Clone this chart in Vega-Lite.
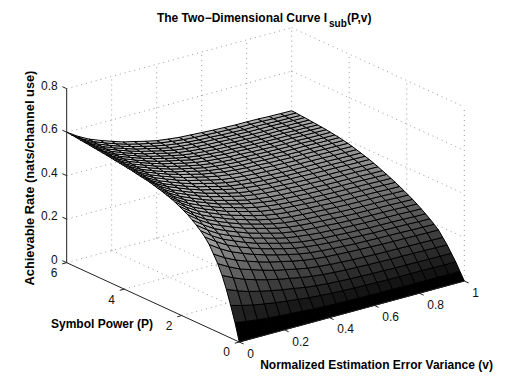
{"$schema":"https://vega.github.io/schema/vega-lite/v6.json","width":512,"height":385,"padding":0,"autosize":{"type":"none"},"background":"white","config":{"view":{"stroke":null}},
"datasets":{
"surface":[
{"P":0,"v":0,"z":0},{"P":0,"v":0.05,"z":0},{"P":0,"v":0.1,"z":0},{"P":0,"v":0.15,"z":0},{"P":0,"v":0.2,"z":0},{"P":0,"v":0.25,"z":0},{"P":0,"v":0.3,"z":0},{"P":0,"v":0.35,"z":0},{"P":0,"v":0.4,"z":0},{"P":0,"v":0.45,"z":0},{"P":0,"v":0.5,"z":0},{"P":0,"v":0.55,"z":0},{"P":0,"v":0.6,"z":0},{"P":0,"v":0.65,"z":0},{"P":0,"v":0.7,"z":0},{"P":0,"v":0.75,"z":0},{"P":0,"v":0.8,"z":0},{"P":0,"v":0.85,"z":0},{"P":0,"v":0.9,"z":0},{"P":0,"v":0.95,"z":0},{"P":0,"v":1,"z":0},
{"P":0.15,"v":0,"z":0.08},{"P":0.15,"v":0.05,"z":0.072},{"P":0.15,"v":0.1,"z":0.065},{"P":0.15,"v":0.15,"z":0.06},{"P":0.15,"v":0.2,"z":0.056},{"P":0.15,"v":0.25,"z":0.052},{"P":0.15,"v":0.3,"z":0.049},{"P":0.15,"v":0.35,"z":0.045},{"P":0.15,"v":0.4,"z":0.043},{"P":0.15,"v":0.45,"z":0.041},{"P":0.15,"v":0.5,"z":0.04},{"P":0.15,"v":0.55,"z":0.039},{"P":0.15,"v":0.6,"z":0.038},{"P":0.15,"v":0.65,"z":0.037},{"P":0.15,"v":0.7,"z":0.037},{"P":0.15,"v":0.75,"z":0.036},{"P":0.15,"v":0.8,"z":0.036},{"P":0.15,"v":0.85,"z":0.036},{"P":0.15,"v":0.9,"z":0.036},{"P":0.15,"v":0.95,"z":0.035},{"P":0.15,"v":1,"z":0.035},
{"P":0.3,"v":0,"z":0.15},{"P":0.3,"v":0.05,"z":0.136},{"P":0.3,"v":0.1,"z":0.124},{"P":0.3,"v":0.15,"z":0.115},{"P":0.3,"v":0.2,"z":0.107},{"P":0.3,"v":0.25,"z":0.1},{"P":0.3,"v":0.3,"z":0.094},{"P":0.3,"v":0.35,"z":0.088},{"P":0.3,"v":0.4,"z":0.084},{"P":0.3,"v":0.45,"z":0.08},{"P":0.3,"v":0.5,"z":0.078},{"P":0.3,"v":0.55,"z":0.076},{"P":0.3,"v":0.6,"z":0.075},{"P":0.3,"v":0.65,"z":0.074},{"P":0.3,"v":0.7,"z":0.073},{"P":0.3,"v":0.75,"z":0.072},{"P":0.3,"v":0.8,"z":0.072},{"P":0.3,"v":0.85,"z":0.072},{"P":0.3,"v":0.9,"z":0.071},{"P":0.3,"v":0.95,"z":0.07},{"P":0.3,"v":1,"z":0.07},
{"P":0.45,"v":0,"z":0.215},{"P":0.45,"v":0.05,"z":0.194},{"P":0.45,"v":0.1,"z":0.177},{"P":0.45,"v":0.15,"z":0.164},{"P":0.45,"v":0.2,"z":0.153},{"P":0.45,"v":0.25,"z":0.143},{"P":0.45,"v":0.3,"z":0.135},{"P":0.45,"v":0.35,"z":0.126},{"P":0.45,"v":0.4,"z":0.12},{"P":0.45,"v":0.45,"z":0.115},{"P":0.45,"v":0.5,"z":0.112},{"P":0.45,"v":0.55,"z":0.109},{"P":0.45,"v":0.6,"z":0.107},{"P":0.45,"v":0.65,"z":0.106},{"P":0.45,"v":0.7,"z":0.105},{"P":0.45,"v":0.75,"z":0.103},{"P":0.45,"v":0.8,"z":0.103},{"P":0.45,"v":0.85,"z":0.102},{"P":0.45,"v":0.9,"z":0.101},{"P":0.45,"v":0.95,"z":0.101},{"P":0.45,"v":1,"z":0.1},
{"P":0.6,"v":0,"z":0.27},{"P":0.6,"v":0.05,"z":0.245},{"P":0.6,"v":0.1,"z":0.224},{"P":0.6,"v":0.15,"z":0.208},{"P":0.6,"v":0.2,"z":0.194},{"P":0.6,"v":0.25,"z":0.182},{"P":0.6,"v":0.3,"z":0.172},{"P":0.6,"v":0.35,"z":0.162},{"P":0.6,"v":0.4,"z":0.154},{"P":0.6,"v":0.45,"z":0.148},{"P":0.6,"v":0.5,"z":0.144},{"P":0.6,"v":0.55,"z":0.141},{"P":0.6,"v":0.6,"z":0.139},{"P":0.6,"v":0.65,"z":0.137},{"P":0.6,"v":0.7,"z":0.136},{"P":0.6,"v":0.75,"z":0.134},{"P":0.6,"v":0.8,"z":0.134},{"P":0.6,"v":0.85,"z":0.133},{"P":0.6,"v":0.9,"z":0.132},{"P":0.6,"v":0.95,"z":0.131},{"P":0.6,"v":1,"z":0.13},
{"P":0.75,"v":0,"z":0.315},{"P":0.75,"v":0.05,"z":0.286},{"P":0.75,"v":0.1,"z":0.262},{"P":0.75,"v":0.15,"z":0.245},{"P":0.75,"v":0.2,"z":0.229},{"P":0.75,"v":0.25,"z":0.214},{"P":0.75,"v":0.3,"z":0.203},{"P":0.75,"v":0.35,"z":0.192},{"P":0.75,"v":0.4,"z":0.182},{"P":0.75,"v":0.45,"z":0.176},{"P":0.75,"v":0.5,"z":0.171},{"P":0.75,"v":0.55,"z":0.168},{"P":0.75,"v":0.6,"z":0.165},{"P":0.75,"v":0.65,"z":0.163},{"P":0.75,"v":0.7,"z":0.161},{"P":0.75,"v":0.75,"z":0.16},{"P":0.75,"v":0.8,"z":0.159},{"P":0.75,"v":0.85,"z":0.158},{"P":0.75,"v":0.9,"z":0.157},{"P":0.75,"v":0.95,"z":0.156},{"P":0.75,"v":1,"z":0.155},
{"P":0.9,"v":0,"z":0.35},{"P":0.9,"v":0.05,"z":0.319},{"P":0.9,"v":0.1,"z":0.294},{"P":0.9,"v":0.15,"z":0.275},{"P":0.9,"v":0.2,"z":0.258},{"P":0.9,"v":0.25,"z":0.243},{"P":0.9,"v":0.3,"z":0.231},{"P":0.9,"v":0.35,"z":0.219},{"P":0.9,"v":0.4,"z":0.209},{"P":0.9,"v":0.45,"z":0.202},{"P":0.9,"v":0.5,"z":0.197},{"P":0.9,"v":0.55,"z":0.194},{"P":0.9,"v":0.6,"z":0.191},{"P":0.9,"v":0.65,"z":0.189},{"P":0.9,"v":0.7,"z":0.187},{"P":0.9,"v":0.75,"z":0.185},{"P":0.9,"v":0.8,"z":0.184},{"P":0.9,"v":0.85,"z":0.183},{"P":0.9,"v":0.9,"z":0.182},{"P":0.9,"v":0.95,"z":0.181},{"P":0.9,"v":1,"z":0.18},
{"P":1.05,"v":0,"z":0.385},{"P":1.05,"v":0.05,"z":0.351},{"P":1.05,"v":0.1,"z":0.323},{"P":1.05,"v":0.15,"z":0.302},{"P":1.05,"v":0.2,"z":0.283},{"P":1.05,"v":0.25,"z":0.267},{"P":1.05,"v":0.3,"z":0.253},{"P":1.05,"v":0.35,"z":0.24},{"P":1.05,"v":0.4,"z":0.229},{"P":1.05,"v":0.45,"z":0.221},{"P":1.05,"v":0.5,"z":0.216},{"P":1.05,"v":0.55,"z":0.212},{"P":1.05,"v":0.6,"z":0.209},{"P":1.05,"v":0.65,"z":0.206},{"P":1.05,"v":0.7,"z":0.205},{"P":1.05,"v":0.75,"z":0.203},{"P":1.05,"v":0.8,"z":0.202},{"P":1.05,"v":0.85,"z":0.201},{"P":1.05,"v":0.9,"z":0.199},{"P":1.05,"v":0.95,"z":0.198},{"P":1.05,"v":1,"z":0.197},
{"P":1.2,"v":0,"z":0.41},{"P":1.2,"v":0.05,"z":0.375},{"P":1.2,"v":0.1,"z":0.345},{"P":1.2,"v":0.15,"z":0.323},{"P":1.2,"v":0.2,"z":0.304},{"P":1.2,"v":0.25,"z":0.286},{"P":1.2,"v":0.3,"z":0.272},{"P":1.2,"v":0.35,"z":0.258},{"P":1.2,"v":0.4,"z":0.246},{"P":1.2,"v":0.45,"z":0.239},{"P":1.2,"v":0.5,"z":0.233},{"P":1.2,"v":0.55,"z":0.229},{"P":1.2,"v":0.6,"z":0.226},{"P":1.2,"v":0.65,"z":0.223},{"P":1.2,"v":0.7,"z":0.221},{"P":1.2,"v":0.75,"z":0.219},{"P":1.2,"v":0.8,"z":0.218},{"P":1.2,"v":0.85,"z":0.217},{"P":1.2,"v":0.9,"z":0.216},{"P":1.2,"v":0.95,"z":0.214},{"P":1.2,"v":1,"z":0.213},
{"P":1.35,"v":0,"z":0.43},{"P":1.35,"v":0.05,"z":0.393},{"P":1.35,"v":0.1,"z":0.363},{"P":1.35,"v":0.15,"z":0.341},{"P":1.35,"v":0.2,"z":0.32},{"P":1.35,"v":0.25,"z":0.302},{"P":1.35,"v":0.3,"z":0.288},{"P":1.35,"v":0.35,"z":0.274},{"P":1.35,"v":0.4,"z":0.262},{"P":1.35,"v":0.45,"z":0.253},{"P":1.35,"v":0.5,"z":0.247},{"P":1.35,"v":0.55,"z":0.243},{"P":1.35,"v":0.6,"z":0.24},{"P":1.35,"v":0.65,"z":0.237},{"P":1.35,"v":0.7,"z":0.235},{"P":1.35,"v":0.75,"z":0.233},{"P":1.35,"v":0.8,"z":0.232},{"P":1.35,"v":0.85,"z":0.231},{"P":1.35,"v":0.9,"z":0.23},{"P":1.35,"v":0.95,"z":0.228},{"P":1.35,"v":1,"z":0.227},
{"P":1.5,"v":0,"z":0.447},{"P":1.5,"v":0.05,"z":0.41},{"P":1.5,"v":0.1,"z":0.379},{"P":1.5,"v":0.15,"z":0.356},{"P":1.5,"v":0.2,"z":0.336},{"P":1.5,"v":0.25,"z":0.317},{"P":1.5,"v":0.3,"z":0.303},{"P":1.5,"v":0.35,"z":0.288},{"P":1.5,"v":0.4,"z":0.276},{"P":1.5,"v":0.45,"z":0.268},{"P":1.5,"v":0.5,"z":0.262},{"P":1.5,"v":0.55,"z":0.257},{"P":1.5,"v":0.6,"z":0.254},{"P":1.5,"v":0.65,"z":0.251},{"P":1.5,"v":0.7,"z":0.249},{"P":1.5,"v":0.75,"z":0.247},{"P":1.5,"v":0.8,"z":0.246},{"P":1.5,"v":0.85,"z":0.245},{"P":1.5,"v":0.9,"z":0.244},{"P":1.5,"v":0.95,"z":0.242},{"P":1.5,"v":1,"z":0.241},
{"P":1.65,"v":0,"z":0.462},{"P":1.65,"v":0.05,"z":0.425},{"P":1.65,"v":0.1,"z":0.393},{"P":1.65,"v":0.15,"z":0.37},{"P":1.65,"v":0.2,"z":0.35},{"P":1.65,"v":0.25,"z":0.331},{"P":1.65,"v":0.3,"z":0.316},{"P":1.65,"v":0.35,"z":0.302},{"P":1.65,"v":0.4,"z":0.289},{"P":1.65,"v":0.45,"z":0.281},{"P":1.65,"v":0.5,"z":0.275},{"P":1.65,"v":0.55,"z":0.271},{"P":1.65,"v":0.6,"z":0.268},{"P":1.65,"v":0.65,"z":0.264},{"P":1.65,"v":0.7,"z":0.262},{"P":1.65,"v":0.75,"z":0.26},{"P":1.65,"v":0.8,"z":0.259},{"P":1.65,"v":0.85,"z":0.258},{"P":1.65,"v":0.9,"z":0.257},{"P":1.65,"v":0.95,"z":0.255},{"P":1.65,"v":1,"z":0.254},
{"P":1.8,"v":0,"z":0.477},{"P":1.8,"v":0.05,"z":0.439},{"P":1.8,"v":0.1,"z":0.407},{"P":1.8,"v":0.15,"z":0.384},{"P":1.8,"v":0.2,"z":0.363},{"P":1.8,"v":0.25,"z":0.344},{"P":1.8,"v":0.3,"z":0.329},{"P":1.8,"v":0.35,"z":0.315},{"P":1.8,"v":0.4,"z":0.302},{"P":1.8,"v":0.45,"z":0.293},{"P":1.8,"v":0.5,"z":0.287},{"P":1.8,"v":0.55,"z":0.283},{"P":1.8,"v":0.6,"z":0.28},{"P":1.8,"v":0.65,"z":0.277},{"P":1.8,"v":0.7,"z":0.274},{"P":1.8,"v":0.75,"z":0.272},{"P":1.8,"v":0.8,"z":0.271},{"P":1.8,"v":0.85,"z":0.27},{"P":1.8,"v":0.9,"z":0.269},{"P":1.8,"v":0.95,"z":0.267},{"P":1.8,"v":1,"z":0.266},
{"P":1.95,"v":0,"z":0.488},{"P":1.95,"v":0.05,"z":0.45},{"P":1.95,"v":0.1,"z":0.418},{"P":1.95,"v":0.15,"z":0.395},{"P":1.95,"v":0.2,"z":0.374},{"P":1.95,"v":0.25,"z":0.355},{"P":1.95,"v":0.3,"z":0.34},{"P":1.95,"v":0.35,"z":0.326},{"P":1.95,"v":0.4,"z":0.313},{"P":1.95,"v":0.45,"z":0.304},{"P":1.95,"v":0.5,"z":0.298},{"P":1.95,"v":0.55,"z":0.294},{"P":1.95,"v":0.6,"z":0.291},{"P":1.95,"v":0.65,"z":0.288},{"P":1.95,"v":0.7,"z":0.285},{"P":1.95,"v":0.75,"z":0.283},{"P":1.95,"v":0.8,"z":0.282},{"P":1.95,"v":0.85,"z":0.281},{"P":1.95,"v":0.9,"z":0.28},{"P":1.95,"v":0.95,"z":0.278},{"P":1.95,"v":1,"z":0.277},
{"P":2.1,"v":0,"z":0.498},{"P":2.1,"v":0.05,"z":0.46},{"P":2.1,"v":0.1,"z":0.429},{"P":2.1,"v":0.15,"z":0.406},{"P":2.1,"v":0.2,"z":0.385},{"P":2.1,"v":0.25,"z":0.366},{"P":2.1,"v":0.3,"z":0.351},{"P":2.1,"v":0.35,"z":0.336},{"P":2.1,"v":0.4,"z":0.324},{"P":2.1,"v":0.45,"z":0.315},{"P":2.1,"v":0.5,"z":0.309},{"P":2.1,"v":0.55,"z":0.305},{"P":2.1,"v":0.6,"z":0.302},{"P":2.1,"v":0.65,"z":0.299},{"P":2.1,"v":0.7,"z":0.296},{"P":2.1,"v":0.75,"z":0.294},{"P":2.1,"v":0.8,"z":0.293},{"P":2.1,"v":0.85,"z":0.292},{"P":2.1,"v":0.9,"z":0.291},{"P":2.1,"v":0.95,"z":0.289},{"P":2.1,"v":1,"z":0.288},
{"P":2.25,"v":0,"z":0.508},{"P":2.25,"v":0.05,"z":0.47},{"P":2.25,"v":0.1,"z":0.439},{"P":2.25,"v":0.15,"z":0.416},{"P":2.25,"v":0.2,"z":0.395},{"P":2.25,"v":0.25,"z":0.376},{"P":2.25,"v":0.3,"z":0.361},{"P":2.25,"v":0.35,"z":0.346},{"P":2.25,"v":0.4,"z":0.334},{"P":2.25,"v":0.45,"z":0.325},{"P":2.25,"v":0.5,"z":0.319},{"P":2.25,"v":0.55,"z":0.315},{"P":2.25,"v":0.6,"z":0.312},{"P":2.25,"v":0.65,"z":0.309},{"P":2.25,"v":0.7,"z":0.306},{"P":2.25,"v":0.75,"z":0.304},{"P":2.25,"v":0.8,"z":0.303},{"P":2.25,"v":0.85,"z":0.302},{"P":2.25,"v":0.9,"z":0.301},{"P":2.25,"v":0.95,"z":0.299},{"P":2.25,"v":1,"z":0.298},
{"P":2.4,"v":0,"z":0.516},{"P":2.4,"v":0.05,"z":0.479},{"P":2.4,"v":0.1,"z":0.447},{"P":2.4,"v":0.15,"z":0.424},{"P":2.4,"v":0.2,"z":0.404},{"P":2.4,"v":0.25,"z":0.385},{"P":2.4,"v":0.3,"z":0.37},{"P":2.4,"v":0.35,"z":0.356},{"P":2.4,"v":0.4,"z":0.343},{"P":2.4,"v":0.45,"z":0.335},{"P":2.4,"v":0.5,"z":0.329},{"P":2.4,"v":0.55,"z":0.325},{"P":2.4,"v":0.6,"z":0.322},{"P":2.4,"v":0.65,"z":0.318},{"P":2.4,"v":0.7,"z":0.316},{"P":2.4,"v":0.75,"z":0.314},{"P":2.4,"v":0.8,"z":0.313},{"P":2.4,"v":0.85,"z":0.312},{"P":2.4,"v":0.9,"z":0.311},{"P":2.4,"v":0.95,"z":0.309},{"P":2.4,"v":1,"z":0.308},
{"P":2.55,"v":0,"z":0.523},{"P":2.55,"v":0.05,"z":0.486},{"P":2.55,"v":0.1,"z":0.455},{"P":2.55,"v":0.15,"z":0.432},{"P":2.55,"v":0.2,"z":0.412},{"P":2.55,"v":0.25,"z":0.393},{"P":2.55,"v":0.3,"z":0.379},{"P":2.55,"v":0.35,"z":0.364},{"P":2.55,"v":0.4,"z":0.352},{"P":2.55,"v":0.45,"z":0.344},{"P":2.55,"v":0.5,"z":0.338},{"P":2.55,"v":0.55,"z":0.333},{"P":2.55,"v":0.6,"z":0.33},{"P":2.55,"v":0.65,"z":0.327},{"P":2.55,"v":0.7,"z":0.325},{"P":2.55,"v":0.75,"z":0.323},{"P":2.55,"v":0.8,"z":0.322},{"P":2.55,"v":0.85,"z":0.321},{"P":2.55,"v":0.9,"z":0.32},{"P":2.55,"v":0.95,"z":0.318},{"P":2.55,"v":1,"z":0.317},
{"P":2.7,"v":0,"z":0.53},{"P":2.7,"v":0.05,"z":0.493},{"P":2.7,"v":0.1,"z":0.463},{"P":2.7,"v":0.15,"z":0.44},{"P":2.7,"v":0.2,"z":0.42},{"P":2.7,"v":0.25,"z":0.401},{"P":2.7,"v":0.3,"z":0.387},{"P":2.7,"v":0.35,"z":0.373},{"P":2.7,"v":0.4,"z":0.361},{"P":2.7,"v":0.45,"z":0.353},{"P":2.7,"v":0.5,"z":0.346},{"P":2.7,"v":0.55,"z":0.342},{"P":2.7,"v":0.6,"z":0.339},{"P":2.7,"v":0.65,"z":0.336},{"P":2.7,"v":0.7,"z":0.334},{"P":2.7,"v":0.75,"z":0.332},{"P":2.7,"v":0.8,"z":0.331},{"P":2.7,"v":0.85,"z":0.33},{"P":2.7,"v":0.9,"z":0.329},{"P":2.7,"v":0.95,"z":0.327},{"P":2.7,"v":1,"z":0.326},
{"P":2.85,"v":0,"z":0.535},{"P":2.85,"v":0.05,"z":0.499},{"P":2.85,"v":0.1,"z":0.469},{"P":2.85,"v":0.15,"z":0.447},{"P":2.85,"v":0.2,"z":0.426},{"P":2.85,"v":0.25,"z":0.408},{"P":2.85,"v":0.3,"z":0.394},{"P":2.85,"v":0.35,"z":0.38},{"P":2.85,"v":0.4,"z":0.368},{"P":2.85,"v":0.45,"z":0.36},{"P":2.85,"v":0.5,"z":0.354},{"P":2.85,"v":0.55,"z":0.35},{"P":2.85,"v":0.6,"z":0.347},{"P":2.85,"v":0.65,"z":0.344},{"P":2.85,"v":0.7,"z":0.342},{"P":2.85,"v":0.75,"z":0.34},{"P":2.85,"v":0.8,"z":0.339},{"P":2.85,"v":0.85,"z":0.338},{"P":2.85,"v":0.9,"z":0.337},{"P":2.85,"v":0.95,"z":0.335},{"P":2.85,"v":1,"z":0.334},
{"P":3,"v":0,"z":0.541},{"P":3,"v":0.05,"z":0.505},{"P":3,"v":0.1,"z":0.476},{"P":3,"v":0.15,"z":0.454},{"P":3,"v":0.2,"z":0.434},{"P":3,"v":0.25,"z":0.416},{"P":3,"v":0.3,"z":0.402},{"P":3,"v":0.35,"z":0.389},{"P":3,"v":0.4,"z":0.377},{"P":3,"v":0.45,"z":0.369},{"P":3,"v":0.5,"z":0.363},{"P":3,"v":0.55,"z":0.359},{"P":3,"v":0.6,"z":0.356},{"P":3,"v":0.65,"z":0.353},{"P":3,"v":0.7,"z":0.351},{"P":3,"v":0.75,"z":0.349},{"P":3,"v":0.8,"z":0.348},{"P":3,"v":0.85,"z":0.347},{"P":3,"v":0.9,"z":0.346},{"P":3,"v":0.95,"z":0.344},{"P":3,"v":1,"z":0.343},
{"P":3.15,"v":0,"z":0.546},{"P":3.15,"v":0.05,"z":0.511},{"P":3.15,"v":0.1,"z":0.481},{"P":3.15,"v":0.15,"z":0.46},{"P":3.15,"v":0.2,"z":0.44},{"P":3.15,"v":0.25,"z":0.423},{"P":3.15,"v":0.3,"z":0.409},{"P":3.15,"v":0.35,"z":0.395},{"P":3.15,"v":0.4,"z":0.383},{"P":3.15,"v":0.45,"z":0.375},{"P":3.15,"v":0.5,"z":0.37},{"P":3.15,"v":0.55,"z":0.366},{"P":3.15,"v":0.6,"z":0.363},{"P":3.15,"v":0.65,"z":0.36},{"P":3.15,"v":0.7,"z":0.358},{"P":3.15,"v":0.75,"z":0.356},{"P":3.15,"v":0.8,"z":0.355},{"P":3.15,"v":0.85,"z":0.354},{"P":3.15,"v":0.9,"z":0.353},{"P":3.15,"v":0.95,"z":0.351},{"P":3.15,"v":1,"z":0.35},
{"P":3.3,"v":0,"z":0.55},{"P":3.3,"v":0.05,"z":0.515},{"P":3.3,"v":0.1,"z":0.487},{"P":3.3,"v":0.15,"z":0.466},{"P":3.3,"v":0.2,"z":0.446},{"P":3.3,"v":0.25,"z":0.429},{"P":3.3,"v":0.3,"z":0.416},{"P":3.3,"v":0.35,"z":0.402},{"P":3.3,"v":0.4,"z":0.391},{"P":3.3,"v":0.45,"z":0.383},{"P":3.3,"v":0.5,"z":0.377},{"P":3.3,"v":0.55,"z":0.373},{"P":3.3,"v":0.6,"z":0.37},{"P":3.3,"v":0.65,"z":0.368},{"P":3.3,"v":0.7,"z":0.366},{"P":3.3,"v":0.75,"z":0.364},{"P":3.3,"v":0.8,"z":0.363},{"P":3.3,"v":0.85,"z":0.362},{"P":3.3,"v":0.9,"z":0.36},{"P":3.3,"v":0.95,"z":0.359},{"P":3.3,"v":1,"z":0.358},
{"P":3.45,"v":0,"z":0.553},{"P":3.45,"v":0.05,"z":0.519},{"P":3.45,"v":0.1,"z":0.491},{"P":3.45,"v":0.15,"z":0.47},{"P":3.45,"v":0.2,"z":0.451},{"P":3.45,"v":0.25,"z":0.434},{"P":3.45,"v":0.3,"z":0.421},{"P":3.45,"v":0.35,"z":0.407},{"P":3.45,"v":0.4,"z":0.396},{"P":3.45,"v":0.45,"z":0.389},{"P":3.45,"v":0.5,"z":0.383},{"P":3.45,"v":0.55,"z":0.379},{"P":3.45,"v":0.6,"z":0.376},{"P":3.45,"v":0.65,"z":0.373},{"P":3.45,"v":0.7,"z":0.372},{"P":3.45,"v":0.75,"z":0.37},{"P":3.45,"v":0.8,"z":0.369},{"P":3.45,"v":0.85,"z":0.368},{"P":3.45,"v":0.9,"z":0.366},{"P":3.45,"v":0.95,"z":0.365},{"P":3.45,"v":1,"z":0.364},
{"P":3.6,"v":0,"z":0.557},{"P":3.6,"v":0.05,"z":0.523},{"P":3.6,"v":0.1,"z":0.495},{"P":3.6,"v":0.15,"z":0.475},{"P":3.6,"v":0.2,"z":0.456},{"P":3.6,"v":0.25,"z":0.439},{"P":3.6,"v":0.3,"z":0.426},{"P":3.6,"v":0.35,"z":0.413},{"P":3.6,"v":0.4,"z":0.402},{"P":3.6,"v":0.45,"z":0.394},{"P":3.6,"v":0.5,"z":0.389},{"P":3.6,"v":0.55,"z":0.385},{"P":3.6,"v":0.6,"z":0.382},{"P":3.6,"v":0.65,"z":0.379},{"P":3.6,"v":0.7,"z":0.377},{"P":3.6,"v":0.75,"z":0.376},{"P":3.6,"v":0.8,"z":0.375},{"P":3.6,"v":0.85,"z":0.374},{"P":3.6,"v":0.9,"z":0.372},{"P":3.6,"v":0.95,"z":0.371},{"P":3.6,"v":1,"z":0.37},
{"P":3.75,"v":0,"z":0.561},{"P":3.75,"v":0.05,"z":0.528},{"P":3.75,"v":0.1,"z":0.5},{"P":3.75,"v":0.15,"z":0.48},{"P":3.75,"v":0.2,"z":0.461},{"P":3.75,"v":0.25,"z":0.444},{"P":3.75,"v":0.3,"z":0.432},{"P":3.75,"v":0.35,"z":0.419},{"P":3.75,"v":0.4,"z":0.407},{"P":3.75,"v":0.45,"z":0.4},{"P":3.75,"v":0.5,"z":0.395},{"P":3.75,"v":0.55,"z":0.391},{"P":3.75,"v":0.6,"z":0.388},{"P":3.75,"v":0.65,"z":0.385},{"P":3.75,"v":0.7,"z":0.383},{"P":3.75,"v":0.75,"z":0.382},{"P":3.75,"v":0.8,"z":0.381},{"P":3.75,"v":0.85,"z":0.38},{"P":3.75,"v":0.9,"z":0.378},{"P":3.75,"v":0.95,"z":0.377},{"P":3.75,"v":1,"z":0.376},
{"P":3.9,"v":0,"z":0.564},{"P":3.9,"v":0.05,"z":0.531},{"P":3.9,"v":0.1,"z":0.504},{"P":3.9,"v":0.15,"z":0.484},{"P":3.9,"v":0.2,"z":0.466},{"P":3.9,"v":0.25,"z":0.449},{"P":3.9,"v":0.3,"z":0.437},{"P":3.9,"v":0.35,"z":0.424},{"P":3.9,"v":0.4,"z":0.413},{"P":3.9,"v":0.45,"z":0.406},{"P":3.9,"v":0.5,"z":0.4},{"P":3.9,"v":0.55,"z":0.397},{"P":3.9,"v":0.6,"z":0.394},{"P":3.9,"v":0.65,"z":0.391},{"P":3.9,"v":0.7,"z":0.389},{"P":3.9,"v":0.75,"z":0.387},{"P":3.9,"v":0.8,"z":0.387},{"P":3.9,"v":0.85,"z":0.386},{"P":3.9,"v":0.9,"z":0.384},{"P":3.9,"v":0.95,"z":0.383},{"P":3.9,"v":1,"z":0.382},
{"P":4.05,"v":0,"z":0.567},{"P":4.05,"v":0.05,"z":0.535},{"P":4.05,"v":0.1,"z":0.508},{"P":4.05,"v":0.15,"z":0.488},{"P":4.05,"v":0.2,"z":0.47},{"P":4.05,"v":0.25,"z":0.454},{"P":4.05,"v":0.3,"z":0.441},{"P":4.05,"v":0.35,"z":0.428},{"P":4.05,"v":0.4,"z":0.418},{"P":4.05,"v":0.45,"z":0.41},{"P":4.05,"v":0.5,"z":0.405},{"P":4.05,"v":0.55,"z":0.401},{"P":4.05,"v":0.6,"z":0.399},{"P":4.05,"v":0.65,"z":0.396},{"P":4.05,"v":0.7,"z":0.394},{"P":4.05,"v":0.75,"z":0.392},{"P":4.05,"v":0.8,"z":0.392},{"P":4.05,"v":0.85,"z":0.391},{"P":4.05,"v":0.9,"z":0.389},{"P":4.05,"v":0.95,"z":0.388},{"P":4.05,"v":1,"z":0.387},
{"P":4.2,"v":0,"z":0.57},{"P":4.2,"v":0.05,"z":0.538},{"P":4.2,"v":0.1,"z":0.511},{"P":4.2,"v":0.15,"z":0.491},{"P":4.2,"v":0.2,"z":0.473},{"P":4.2,"v":0.25,"z":0.457},{"P":4.2,"v":0.3,"z":0.445},{"P":4.2,"v":0.35,"z":0.432},{"P":4.2,"v":0.4,"z":0.421},{"P":4.2,"v":0.45,"z":0.414},{"P":4.2,"v":0.5,"z":0.409},{"P":4.2,"v":0.55,"z":0.405},{"P":4.2,"v":0.6,"z":0.403},{"P":4.2,"v":0.65,"z":0.4},{"P":4.2,"v":0.7,"z":0.398},{"P":4.2,"v":0.75,"z":0.396},{"P":4.2,"v":0.8,"z":0.395},{"P":4.2,"v":0.85,"z":0.395},{"P":4.2,"v":0.9,"z":0.393},{"P":4.2,"v":0.95,"z":0.392},{"P":4.2,"v":1,"z":0.391},
{"P":4.35,"v":0,"z":0.573},{"P":4.35,"v":0.05,"z":0.541},{"P":4.35,"v":0.1,"z":0.514},{"P":4.35,"v":0.15,"z":0.495},{"P":4.35,"v":0.2,"z":0.477},{"P":4.35,"v":0.25,"z":0.461},{"P":4.35,"v":0.3,"z":0.448},{"P":4.35,"v":0.35,"z":0.436},{"P":4.35,"v":0.4,"z":0.425},{"P":4.35,"v":0.45,"z":0.418},{"P":4.35,"v":0.5,"z":0.413},{"P":4.35,"v":0.55,"z":0.409},{"P":4.35,"v":0.6,"z":0.407},{"P":4.35,"v":0.65,"z":0.404},{"P":4.35,"v":0.7,"z":0.402},{"P":4.35,"v":0.75,"z":0.4},{"P":4.35,"v":0.8,"z":0.399},{"P":4.35,"v":0.85,"z":0.399},{"P":4.35,"v":0.9,"z":0.397},{"P":4.35,"v":0.95,"z":0.396},{"P":4.35,"v":1,"z":0.395},
{"P":4.5,"v":0,"z":0.576},{"P":4.5,"v":0.05,"z":0.544},{"P":4.5,"v":0.1,"z":0.517},{"P":4.5,"v":0.15,"z":0.498},{"P":4.5,"v":0.2,"z":0.48},{"P":4.5,"v":0.25,"z":0.464},{"P":4.5,"v":0.3,"z":0.451},{"P":4.5,"v":0.35,"z":0.439},{"P":4.5,"v":0.4,"z":0.428},{"P":4.5,"v":0.45,"z":0.421},{"P":4.5,"v":0.5,"z":0.416},{"P":4.5,"v":0.55,"z":0.412},{"P":4.5,"v":0.6,"z":0.41},{"P":4.5,"v":0.65,"z":0.407},{"P":4.5,"v":0.7,"z":0.405},{"P":4.5,"v":0.75,"z":0.403},{"P":4.5,"v":0.8,"z":0.402},{"P":4.5,"v":0.85,"z":0.402},{"P":4.5,"v":0.9,"z":0.4},{"P":4.5,"v":0.95,"z":0.399},{"P":4.5,"v":1,"z":0.398},
{"P":4.65,"v":0,"z":0.579},{"P":4.65,"v":0.05,"z":0.547},{"P":4.65,"v":0.1,"z":0.52},{"P":4.65,"v":0.15,"z":0.501},{"P":4.65,"v":0.2,"z":0.483},{"P":4.65,"v":0.25,"z":0.467},{"P":4.65,"v":0.3,"z":0.454},{"P":4.65,"v":0.35,"z":0.442},{"P":4.65,"v":0.4,"z":0.431},{"P":4.65,"v":0.45,"z":0.424},{"P":4.65,"v":0.5,"z":0.419},{"P":4.65,"v":0.55,"z":0.415},{"P":4.65,"v":0.6,"z":0.413},{"P":4.65,"v":0.65,"z":0.41},{"P":4.65,"v":0.7,"z":0.408},{"P":4.65,"v":0.75,"z":0.406},{"P":4.65,"v":0.8,"z":0.405},{"P":4.65,"v":0.85,"z":0.405},{"P":4.65,"v":0.9,"z":0.403},{"P":4.65,"v":0.95,"z":0.402},{"P":4.65,"v":1,"z":0.401},
{"P":4.8,"v":0,"z":0.581},{"P":4.8,"v":0.05,"z":0.549},{"P":4.8,"v":0.1,"z":0.523},{"P":4.8,"v":0.15,"z":0.503},{"P":4.8,"v":0.2,"z":0.485},{"P":4.8,"v":0.25,"z":0.469},{"P":4.8,"v":0.3,"z":0.457},{"P":4.8,"v":0.35,"z":0.445},{"P":4.8,"v":0.4,"z":0.434},{"P":4.8,"v":0.45,"z":0.427},{"P":4.8,"v":0.5,"z":0.422},{"P":4.8,"v":0.55,"z":0.418},{"P":4.8,"v":0.6,"z":0.416},{"P":4.8,"v":0.65,"z":0.413},{"P":4.8,"v":0.7,"z":0.411},{"P":4.8,"v":0.75,"z":0.409},{"P":4.8,"v":0.8,"z":0.408},{"P":4.8,"v":0.85,"z":0.408},{"P":4.8,"v":0.9,"z":0.406},{"P":4.8,"v":0.95,"z":0.405},{"P":4.8,"v":1,"z":0.404},
{"P":4.95,"v":0,"z":0.584},{"P":4.95,"v":0.05,"z":0.552},{"P":4.95,"v":0.1,"z":0.525},{"P":4.95,"v":0.15,"z":0.506},{"P":4.95,"v":0.2,"z":0.488},{"P":4.95,"v":0.25,"z":0.472},{"P":4.95,"v":0.3,"z":0.459},{"P":4.95,"v":0.35,"z":0.447},{"P":4.95,"v":0.4,"z":0.436},{"P":4.95,"v":0.45,"z":0.429},{"P":4.95,"v":0.5,"z":0.424},{"P":4.95,"v":0.55,"z":0.42},{"P":4.95,"v":0.6,"z":0.418},{"P":4.95,"v":0.65,"z":0.415},{"P":4.95,"v":0.7,"z":0.413},{"P":4.95,"v":0.75,"z":0.411},{"P":4.95,"v":0.8,"z":0.41},{"P":4.95,"v":0.85,"z":0.41},{"P":4.95,"v":0.9,"z":0.408},{"P":4.95,"v":0.95,"z":0.407},{"P":4.95,"v":1,"z":0.406},
{"P":5.1,"v":0,"z":0.586},{"P":5.1,"v":0.05,"z":0.554},{"P":5.1,"v":0.1,"z":0.527},{"P":5.1,"v":0.15,"z":0.508},{"P":5.1,"v":0.2,"z":0.49},{"P":5.1,"v":0.25,"z":0.474},{"P":5.1,"v":0.3,"z":0.461},{"P":5.1,"v":0.35,"z":0.449},{"P":5.1,"v":0.4,"z":0.438},{"P":5.1,"v":0.45,"z":0.431},{"P":5.1,"v":0.5,"z":0.426},{"P":5.1,"v":0.55,"z":0.422},{"P":5.1,"v":0.6,"z":0.42},{"P":5.1,"v":0.65,"z":0.417},{"P":5.1,"v":0.7,"z":0.415},{"P":5.1,"v":0.75,"z":0.413},{"P":5.1,"v":0.8,"z":0.412},{"P":5.1,"v":0.85,"z":0.412},{"P":5.1,"v":0.9,"z":0.41},{"P":5.1,"v":0.95,"z":0.409},{"P":5.1,"v":1,"z":0.408},
{"P":5.25,"v":0,"z":0.589},{"P":5.25,"v":0.05,"z":0.557},{"P":5.25,"v":0.1,"z":0.53},{"P":5.25,"v":0.15,"z":0.51},{"P":5.25,"v":0.2,"z":0.492},{"P":5.25,"v":0.25,"z":0.476},{"P":5.25,"v":0.3,"z":0.464},{"P":5.25,"v":0.35,"z":0.451},{"P":5.25,"v":0.4,"z":0.44},{"P":5.25,"v":0.45,"z":0.433},{"P":5.25,"v":0.5,"z":0.428},{"P":5.25,"v":0.55,"z":0.424},{"P":5.25,"v":0.6,"z":0.422},{"P":5.25,"v":0.65,"z":0.419},{"P":5.25,"v":0.7,"z":0.417},{"P":5.25,"v":0.75,"z":0.415},{"P":5.25,"v":0.8,"z":0.414},{"P":5.25,"v":0.85,"z":0.414},{"P":5.25,"v":0.9,"z":0.412},{"P":5.25,"v":0.95,"z":0.411},{"P":5.25,"v":1,"z":0.41},
{"P":5.4,"v":0,"z":0.591},{"P":5.4,"v":0.05,"z":0.559},{"P":5.4,"v":0.1,"z":0.532},{"P":5.4,"v":0.15,"z":0.512},{"P":5.4,"v":0.2,"z":0.494},{"P":5.4,"v":0.25,"z":0.478},{"P":5.4,"v":0.3,"z":0.466},{"P":5.4,"v":0.35,"z":0.453},{"P":5.4,"v":0.4,"z":0.442},{"P":5.4,"v":0.45,"z":0.435},{"P":5.4,"v":0.5,"z":0.43},{"P":5.4,"v":0.55,"z":0.426},{"P":5.4,"v":0.6,"z":0.424},{"P":5.4,"v":0.65,"z":0.421},{"P":5.4,"v":0.7,"z":0.419},{"P":5.4,"v":0.75,"z":0.417},{"P":5.4,"v":0.8,"z":0.416},{"P":5.4,"v":0.85,"z":0.416},{"P":5.4,"v":0.9,"z":0.414},{"P":5.4,"v":0.95,"z":0.413},{"P":5.4,"v":1,"z":0.412},
{"P":5.55,"v":0,"z":0.593},{"P":5.55,"v":0.05,"z":0.561},{"P":5.55,"v":0.1,"z":0.534},{"P":5.55,"v":0.15,"z":0.514},{"P":5.55,"v":0.2,"z":0.496},{"P":5.55,"v":0.25,"z":0.48},{"P":5.55,"v":0.3,"z":0.468},{"P":5.55,"v":0.35,"z":0.455},{"P":5.55,"v":0.4,"z":0.444},{"P":5.55,"v":0.45,"z":0.437},{"P":5.55,"v":0.5,"z":0.432},{"P":5.55,"v":0.55,"z":0.428},{"P":5.55,"v":0.6,"z":0.426},{"P":5.55,"v":0.65,"z":0.423},{"P":5.55,"v":0.7,"z":0.421},{"P":5.55,"v":0.75,"z":0.419},{"P":5.55,"v":0.8,"z":0.418},{"P":5.55,"v":0.85,"z":0.418},{"P":5.55,"v":0.9,"z":0.416},{"P":5.55,"v":0.95,"z":0.415},{"P":5.55,"v":1,"z":0.414},
{"P":5.7,"v":0,"z":0.596},{"P":5.7,"v":0.05,"z":0.563},{"P":5.7,"v":0.1,"z":0.536},{"P":5.7,"v":0.15,"z":0.516},{"P":5.7,"v":0.2,"z":0.498},{"P":5.7,"v":0.25,"z":0.482},{"P":5.7,"v":0.3,"z":0.469},{"P":5.7,"v":0.35,"z":0.457},{"P":5.7,"v":0.4,"z":0.446},{"P":5.7,"v":0.45,"z":0.439},{"P":5.7,"v":0.5,"z":0.433},{"P":5.7,"v":0.55,"z":0.429},{"P":5.7,"v":0.6,"z":0.427},{"P":5.7,"v":0.65,"z":0.424},{"P":5.7,"v":0.7,"z":0.422},{"P":5.7,"v":0.75,"z":0.42},{"P":5.7,"v":0.8,"z":0.42},{"P":5.7,"v":0.85,"z":0.419},{"P":5.7,"v":0.9,"z":0.417},{"P":5.7,"v":0.95,"z":0.416},{"P":5.7,"v":1,"z":0.415},
{"P":5.85,"v":0,"z":0.598},{"P":5.85,"v":0.05,"z":0.565},{"P":5.85,"v":0.1,"z":0.538},{"P":5.85,"v":0.15,"z":0.518},{"P":5.85,"v":0.2,"z":0.5},{"P":5.85,"v":0.25,"z":0.484},{"P":5.85,"v":0.3,"z":0.471},{"P":5.85,"v":0.35,"z":0.459},{"P":5.85,"v":0.4,"z":0.448},{"P":5.85,"v":0.45,"z":0.441},{"P":5.85,"v":0.5,"z":0.435},{"P":5.85,"v":0.55,"z":0.431},{"P":5.85,"v":0.6,"z":0.429},{"P":5.85,"v":0.65,"z":0.426},{"P":5.85,"v":0.7,"z":0.424},{"P":5.85,"v":0.75,"z":0.422},{"P":5.85,"v":0.8,"z":0.422},{"P":5.85,"v":0.85,"z":0.421},{"P":5.85,"v":0.9,"z":0.419},{"P":5.85,"v":0.95,"z":0.418},{"P":5.85,"v":1,"z":0.417},
{"P":6,"v":0,"z":0.6},{"P":6,"v":0.05,"z":0.567},{"P":6,"v":0.1,"z":0.54},{"P":6,"v":0.15,"z":0.52},{"P":6,"v":0.2,"z":0.502},{"P":6,"v":0.25,"z":0.485},{"P":6,"v":0.3,"z":0.473},{"P":6,"v":0.35,"z":0.46},{"P":6,"v":0.4,"z":0.449},{"P":6,"v":0.45,"z":0.442},{"P":6,"v":0.5,"z":0.436},{"P":6,"v":0.55,"z":0.433},{"P":6,"v":0.6,"z":0.43},{"P":6,"v":0.65,"z":0.427},{"P":6,"v":0.7,"z":0.425},{"P":6,"v":0.75,"z":0.423},{"P":6,"v":0.8,"z":0.423},{"P":6,"v":0.85,"z":0.422},{"P":6,"v":0.9,"z":0.42},{"P":6,"v":0.95,"z":0.419},{"P":6,"v":1,"z":0.418}],
"walls":[
{"id":"z0a","P":6,"v":0,"z":0},{"id":"z0a","P":6,"v":1,"z":0},{"id":"z0b","P":6,"v":1,"z":0},{"id":"z0b","P":0,"v":1,"z":0},
{"id":"z2a","P":6,"v":0,"z":0.2},{"id":"z2a","P":6,"v":1,"z":0.2},{"id":"z2b","P":6,"v":1,"z":0.2},{"id":"z2b","P":0,"v":1,"z":0.2},
{"id":"z4a","P":6,"v":0,"z":0.4},{"id":"z4a","P":6,"v":1,"z":0.4},{"id":"z4b","P":6,"v":1,"z":0.4},{"id":"z4b","P":0,"v":1,"z":0.4},
{"id":"z6a","P":6,"v":0,"z":0.6},{"id":"z6a","P":6,"v":1,"z":0.6},{"id":"z6b","P":6,"v":1,"z":0.6},{"id":"z6b","P":0,"v":1,"z":0.6},
{"id":"z8a","P":6,"v":0,"z":0.8},{"id":"z8a","P":6,"v":1,"z":0.8},{"id":"z8b","P":6,"v":1,"z":0.8},{"id":"z8b","P":0,"v":1,"z":0.8},
{"id":"v2w","P":6,"v":0.2,"z":0},{"id":"v2w","P":6,"v":0.2,"z":0.8},{"id":"v4w","P":6,"v":0.4,"z":0},{"id":"v4w","P":6,"v":0.4,"z":0.8},{"id":"v6w","P":6,"v":0.6,"z":0},{"id":"v6w","P":6,"v":0.6,"z":0.8},{"id":"v8w","P":6,"v":0.8,"z":0},{"id":"v8w","P":6,"v":0.8,"z":0.8},{"id":"v10w","P":6,"v":1,"z":0},{"id":"v10w","P":6,"v":1,"z":0.8},
{"id":"p4w","P":4,"v":1,"z":0},{"id":"p4w","P":4,"v":1,"z":0.8},{"id":"p2w","P":2,"v":1,"z":0},{"id":"p2w","P":2,"v":1,"z":0.8},{"id":"p0w","P":0,"v":1,"z":0},{"id":"p0w","P":0,"v":1,"z":0.8},
{"id":"v2f","P":6,"v":0.2,"z":0},{"id":"v2f","P":0,"v":0.2,"z":0},{"id":"v4f","P":6,"v":0.4,"z":0},{"id":"v4f","P":0,"v":0.4,"z":0},{"id":"v6f","P":6,"v":0.6,"z":0},{"id":"v6f","P":0,"v":0.6,"z":0},{"id":"v8f","P":6,"v":0.8,"z":0},{"id":"v8f","P":0,"v":0.8,"z":0},
{"id":"p4f","P":4,"v":0,"z":0},{"id":"p4f","P":4,"v":1,"z":0},{"id":"p2f","P":2,"v":0,"z":0},{"id":"p2f","P":2,"v":1,"z":0}],
"axes":[
{"id":"za","P":6,"v":0,"z":0},{"id":"za","P":6,"v":0,"z":0.8},{"id":"pa","P":6,"v":0,"z":0},{"id":"pa","P":0,"v":0,"z":0},{"id":"va","P":0,"v":0,"z":0},{"id":"va","P":0,"v":1,"z":0},
{"id":"tz0","P":6,"v":0,"z":0},{"id":"tz0","P":6.15,"v":0,"z":0},{"id":"tz2","P":6,"v":0,"z":0.2},{"id":"tz2","P":6.15,"v":0,"z":0.2},{"id":"tz4","P":6,"v":0,"z":0.4},{"id":"tz4","P":6.15,"v":0,"z":0.4},{"id":"tz6","P":6,"v":0,"z":0.6},{"id":"tz6","P":6.15,"v":0,"z":0.6},{"id":"tz8","P":6,"v":0,"z":0.8},{"id":"tz8","P":6.15,"v":0,"z":0.8},
{"id":"tp0","P":0,"v":0,"z":0},{"id":"tp0","P":0,"v":-0.02,"z":0},{"id":"tp2","P":2,"v":0,"z":0},{"id":"tp2","P":2,"v":-0.02,"z":0},{"id":"tp4","P":4,"v":0,"z":0},{"id":"tp4","P":4,"v":-0.02,"z":0},{"id":"tp6","P":6,"v":0,"z":0},{"id":"tp6","P":6,"v":-0.02,"z":0},
{"id":"tv0","P":0,"v":0,"z":0},{"id":"tv0","P":-0.15,"v":0,"z":0},{"id":"tv2","P":0,"v":0.2,"z":0},{"id":"tv2","P":-0.15,"v":0.2,"z":0},{"id":"tv4","P":0,"v":0.4,"z":0},{"id":"tv4","P":-0.15,"v":0.4,"z":0},{"id":"tv6","P":0,"v":0.6,"z":0},{"id":"tv6","P":-0.15,"v":0.6,"z":0},{"id":"tv8","P":0,"v":0.8,"z":0},{"id":"tv8","P":-0.15,"v":0.8,"z":0},{"id":"tv10","P":0,"v":1,"z":0},{"id":"tv10","P":-0.15,"v":1,"z":0}],
"labels":[
{"k":"z","t":"0","P":6,"v":0,"z":0},{"k":"z","t":"0.2","P":6,"v":0,"z":0.2},{"k":"z","t":"0.4","P":6,"v":0,"z":0.4},{"k":"z","t":"0.6","P":6,"v":0,"z":0.6},{"k":"z","t":"0.8","P":6,"v":0,"z":0.8},
{"k":"p","t":"0","P":0,"v":0,"z":0},{"k":"p","t":"2","P":2,"v":0,"z":0},{"k":"p","t":"4","P":4,"v":0,"z":0},{"k":"p","t":"6","P":6,"v":0,"z":0},
{"k":"v","t":"0","P":0,"v":0,"z":0},{"k":"v","t":"0.2","P":0,"v":0.2,"z":0},{"k":"v","t":"0.4","P":0,"v":0.4,"z":0},{"k":"v","t":"0.6","P":0,"v":0.6,"z":0},{"k":"v","t":"0.8","P":0,"v":0.8,"z":0},{"k":"v","t":"1","P":0,"v":1,"z":0},
{"k":"title","t":"The Two−Dimensional Curve I","P":6,"v":0.401,"z":1.012},{"k":"sub","t":"sub","P":6,"v":1.166,"z":0.77},{"k":"title","t":"(P,v)","P":6,"v":1.246,"z":0.776},
{"k":"center","t":"Symbol Power (P)","P":6,"v":0.157,"z":-0.326},{"k":"center","t":"Normalized Estimation Error Variance (v)","P":0,"v":0.61,"z":-0.277},{"k":"rot","t":"Achievable Rate (nats/channel use)","P":6,"v":-0.163,"z":0.435}]
},
"encoding":{"x":{"field":"sx","type":"quantitative","scale":{"domain":[0,512],"nice":false,"zero":false},"axis":null},"y":{"field":"sy","type":"quantitative","scale":{"domain":[385,0],"nice":false,"zero":false},"axis":null}},
"layer":[
{"data":{"name":"walls"},"transform":[{"calculate":"239.3+225*datum.v-28.77*datum.P","as":"sx"},{"calculate":"342-61*datum.v-13.22*datum.P-217.5*datum.z","as":"sy"}],"mark":{"type":"line","stroke":"#555","strokeWidth":0.6,"strokeDash":[1,4]},"encoding":{"detail":{"field":"id"}}},
{"data":{"name":"surface"},"transform":[
{"window":[{"op":"lead","field":"z","as":"zP"},{"op":"lead","field":"P","as":"Pn"}],"groupby":["v"],"sort":[{"field":"P"}]},
{"window":[{"op":"lead","field":"z","as":"zV"},{"op":"lead","field":"v","as":"vn"}],"groupby":["P"],"sort":[{"field":"v"}]},
{"window":[{"op":"lead","field":"zV","as":"zPV"}],"groupby":["v"],"sort":[{"field":"P"}]},
{"filter":"isValid(datum.Pn)&&isValid(datum.vn)"},
{"calculate":"datum.z","as":"zC"},
{"fold":["z","zP","zPV","zV","zC"],"as":["corner","zq"]},
{"calculate":"indexof(['z','zP','zPV','zV','zC'],datum.corner)","as":"c"},
{"calculate":"datum.c==1||datum.c==2?datum.Pn:datum.P","as":"Pq"},
{"calculate":"datum.c==2||datum.c==3?datum.vn:datum.v","as":"vq"},
{"calculate":"239.3+225*datum.vq-28.77*datum.Pq","as":"sx"},
{"calculate":"342-61*datum.vq-13.22*datum.Pq-217.5*datum.zq","as":"sy"}],
"mark":{"type":"line","stroke":"#000","strokeWidth":1,"strokeJoin":"miter","interpolate":"linear"},
"encoding":{"detail":[{"field":"P"},{"field":"v"}],"order":{"field":"c"},"fill":{"field":"zC","type":"quantitative","scale":{"domain":[0,0.6],"range":["#000000","#ffffff"]},"legend":null}}},
{"data":{"name":"axes"},"transform":[{"calculate":"239.3+225*datum.v-28.77*datum.P","as":"sx"},{"calculate":"342-61*datum.v-13.22*datum.P-217.5*datum.z","as":"sy"}],"mark":{"type":"line","stroke":"#222","strokeWidth":1},"encoding":{"detail":{"field":"id"}}},
{"data":{"name":"labels"},"transform":[{"calculate":"239.3+225*datum.v-28.77*datum.P","as":"sx"},{"calculate":"342-61*datum.v-13.22*datum.P-217.5*datum.z","as":"sy"}],"encoding":{"text":{"field":"t"}},
"layer":[
{"transform":[{"filter":"datum.k=='z'"}],"mark":{"type":"text","font":"Liberation Sans","fontSize":12,"fill":"#111","align":"right","baseline":"middle","dx":-9,"dy":-3}},
{"transform":[{"filter":"datum.k=='p'"}],"mark":{"type":"text","font":"Liberation Sans","fontSize":12,"fill":"#111","align":"center","baseline":"middle","dx":-12.6,"dy":10.4}},
{"transform":[{"filter":"datum.k=='v'"}],"mark":{"type":"text","font":"Liberation Sans","fontSize":12,"fill":"#111","align":"left","baseline":"middle","dx":8,"dy":11.8}},
{"transform":[{"filter":"datum.k=='title'"}],"mark":{"type":"text","font":"Liberation Sans","fontSize":12,"fontWeight":"bold","fill":"#000","align":"left","baseline":"middle"}},
{"transform":[{"filter":"datum.k=='sub'"}],"mark":{"type":"text","font":"Liberation Sans","fontSize":10,"fontWeight":"bold","fill":"#000","align":"left","baseline":"middle"}},
{"transform":[{"filter":"datum.k=='center'"}],"mark":{"type":"text","font":"Liberation Sans","fontSize":12,"fontWeight":"bold","fill":"#000","align":"center","baseline":"middle"}},
{"transform":[{"filter":"datum.k=='rot'"}],"mark":{"type":"text","font":"Liberation Sans","fontSize":12.8,"fontWeight":"bold","fill":"#000","align":"center","baseline":"middle","angle":270}}
]}
]}
